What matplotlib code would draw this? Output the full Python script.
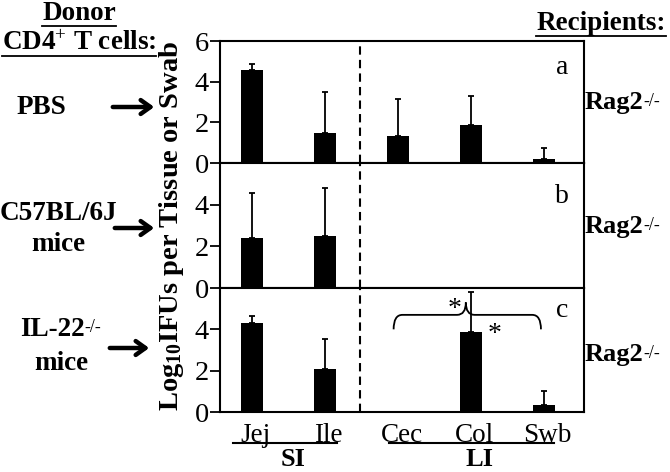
import numpy as np
import matplotlib
matplotlib.use("Agg")
import matplotlib.pyplot as plt
from matplotlib.lines import Line2D
from matplotlib.path import Path
from matplotlib.patches import PathPatch, FancyArrowPatch

plt.rcParams['font.family'] = ['Liberation Serif', 'DejaVu Serif']
plt.rcParams['mathtext.fontset'] = 'custom'
plt.rcParams['mathtext.rm'] = 'Liberation Serif'
plt.rcParams['mathtext.it'] = 'Liberation Serif:italic'
plt.rcParams['mathtext.bf'] = 'Liberation Serif:bold'

# data
sites = ['Jej', 'Ile', 'Cec', 'Col', 'Swb']
pbs_mean = [4.55, 1.5, 1.35, 1.88, 0.18]
pbs_err = [0.33, 2.0, 1.8, 1.43, 0.58]
b6_mean = [2.4, 2.48, 0, 0, 0]
b6_err = [2.15, 2.33, 0, 0, 0]
il22_mean = [4.32, 2.1, 0, 3.87, 0.35]
il22_err = [0.34, 1.42, 0, 1.93, 0.68]
panel_letters = ['a', 'b', 'c']

x = np.arange(len(sites))

fig = plt.figure(figsize=(6.7, 4.72), dpi=100)
W, H = 670, 472
FS = 19.5

def fx(px):
    return px / W

def fy(py):
    return 1 - py / H

left, right = 220, 584
tops = [41, 163, 288]
bots = [163, 288, 412]
means = [pbs_mean, b6_mean, il22_mean]
errs = [pbs_err, b6_err, il22_err]
letter_y = [0.78, 0.73, 0.82]
axes = []
for i in range(3):
    ax = fig.add_axes([fx(left), fy(bots[i]), fx(right - left), (bots[i] - tops[i]) / H])
    m = np.array(means[i])
    e = np.array(errs[i])
    show = m > 0
    ax.bar(x[show], m[show], width=0.3, color='black')
    ax.errorbar(x[show], m[show], yerr=[np.zeros(show.sum()), e[show]],
                fmt='none', ecolor='black', elinewidth=1.3, capsize=2.5, capthick=1.3)
    ax.axvline(1.48, color='black', lw=1.5, ls=(0, (4, 2.5)))
    ax.set_xlim(-0.44, 4.55)
    ax.set_ylim(0, 6)
    ax.set_yticks([0, 2, 4, 6] if i == 0 else [0, 2, 4])
    ax.tick_params(axis='y', direction='out', length=7, width=1.3, labelsize=20.5, pad=1)
    ax.set_xticks([])
    for s in ax.spines.values():
        s.set_linewidth(1.5)
    ax.text(0.94, letter_y[i], panel_letters[i], transform=ax.transAxes,
            fontsize=20, ha='center', va='center')
    axes.append(ax)

# brace + significance in panel c
axc = axes[2]
bx0, bx1, bmid, by, btip, bend = 1.94, 3.96, 2.93, 4.7, 5.3, 4.0
verts = [(bx0, bend), (bx0, by), (bx0 + 0.12, by),
         (bmid - 0.12, by), (bmid, by), (bmid, btip),
         (bmid, by), (bmid + 0.12, by),
         (bx1 - 0.12, by), (bx1, by), (bx1, bend)]
codes = [Path.MOVETO, Path.CURVE3, Path.CURVE3,
         Path.LINETO, Path.CURVE3, Path.CURVE3,
         Path.CURVE3, Path.CURVE3,
         Path.LINETO, Path.CURVE3, Path.CURVE3]
axc.add_patch(PathPatch(Path(verts, codes), fill=False, lw=1.3, color='black'))
axc.text(2.77, 4.95, '*', fontsize=20, ha='center', va='center')
axc.text(3.33, 3.75, '*', fontsize=20, ha='center', va='center')

# x labels
for xi, s in zip(x, sites):
    axc.text(xi + 0.05, -0.55, s, fontsize=FS, ha='center', va='top')
lab_y = fy(443)
fig.add_artist(Line2D([fx(233), fx(337)], [lab_y, lab_y], color='black', lw=1.5))
fig.add_artist(Line2D([fx(389), fx(554)], [lab_y, lab_y], color='black', lw=1.5))
fig.text(fx(293), fy(459), 'SI', fontsize=19, fontweight='bold', ha='center', va='center')
fig.text(fx(480), fy(459), 'LI', fontsize=19, fontweight='bold', ha='center', va='center')

# y label
fig.text(fx(171), fy(226), r'Log$_{\mathbf{10}}$IFUs per Tissue or Swab', rotation=90,
         fontsize=20.5, fontweight='bold', ha='center', va='center')

renderer = fig.canvas.get_renderer()

def underlined(px, py, s):
    t = fig.text(fx(px), fy(py), s, fontsize=FS, fontweight='bold', ha='center', va='center')
    bb = t.get_window_extent(renderer)
    fig.add_artist(Line2D([bb.x0 / W, bb.x1 / W], [bb.y0 / H - 0.001, bb.y0 / H - 0.001],
                          color='black', lw=1.3))

def with_sup(px, py, base, sup, size=FS):
    t = fig.text(fx(px), fy(py), base, fontsize=size, fontweight='bold', ha='left', va='center')
    bb = t.get_window_extent(renderer)
    fig.text(bb.x1 / W, bb.y1 / H - 0.004, sup, fontsize=13, ha='left', va='top')

underlined(79, 13, 'Donor')
underlined(79, 43, r'CD4$^{+}$ T cells:')
underlined(601, 23, 'Recipients:')

# donor labels and arrows
fig.text(fx(41), fy(107), 'PBS', fontsize=FS, fontweight='bold', ha='center', va='center')
fig.text(fx(58), fy(213), 'C57BL/6J', fontsize=FS, fontweight='bold', ha='center', va='center')
fig.text(fx(58), fy(245), 'mice', fontsize=FS, fontweight='bold', ha='center', va='center')
with_sup(20, 330, 'IL-22', '-/-')
fig.text(fx(61), fy(363), 'mice', fontsize=FS, fontweight='bold', ha='center', va='center')

arrow_x = [(110, 157), (112, 157), (107, 152)]
arrow_y = [107, 228, 348]
rag_y = [103, 227, 355]
for i in range(3):
    fig.add_artist(FancyArrowPatch(
        (fx(arrow_x[i][0]), fy(arrow_y[i])), (fx(arrow_x[i][1]), fy(arrow_y[i])),
        transform=fig.transFigure, arrowstyle='->,head_length=7,head_width=5',
        lw=3.2, color='black'))
    with_sup(585, rag_y[i], 'Rag2', '-/-', size=19)

fig.savefig('out.png', dpi=100)
